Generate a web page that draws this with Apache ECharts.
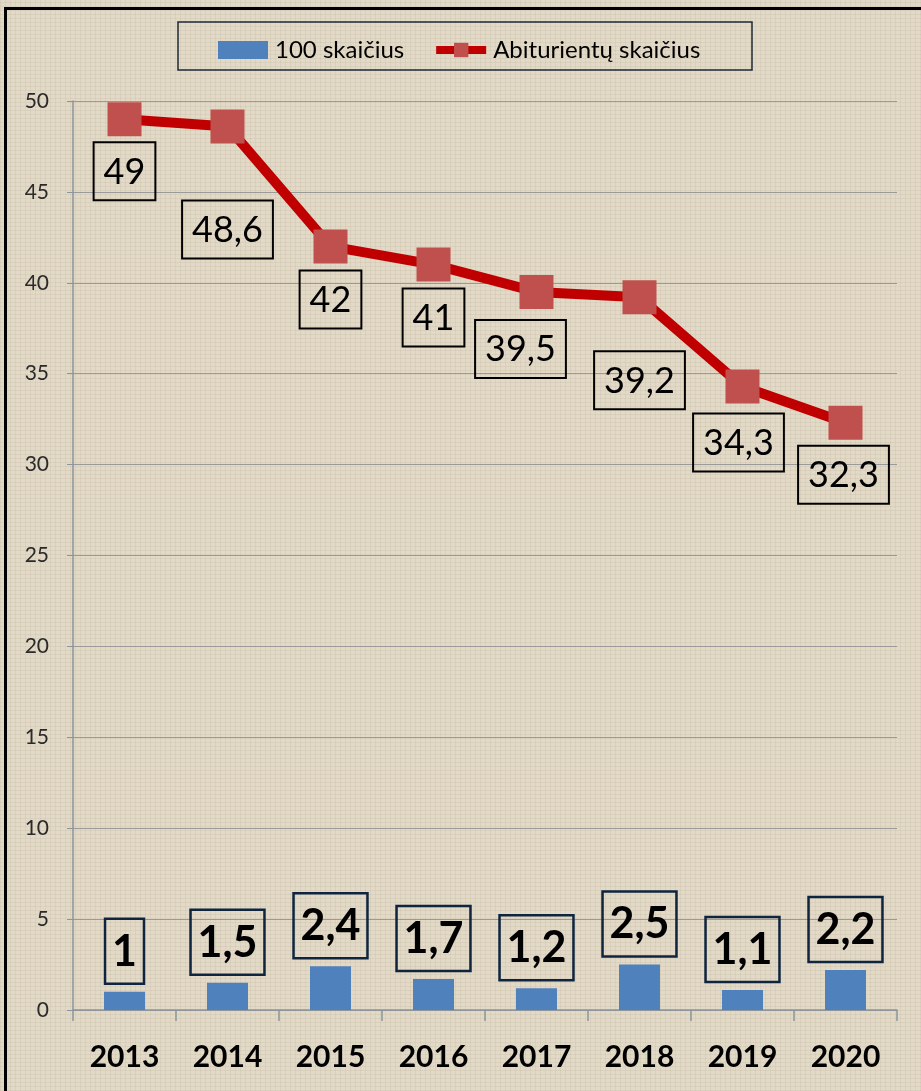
<!DOCTYPE html>
<html>
<head>
<meta charset="utf-8">
<script src="https://cdn.jsdelivr.net/npm/echarts@6/dist/echarts.min.js"></script>
<style>
  * { margin: 0; padding: 0; }
  html, body {
    width: 921px; height: 1091px; overflow: hidden;
    background-color: #e2d9c6;
    /* imitacija drobės faktūrai */
    background-image:
      repeating-linear-gradient(0deg, rgba(110, 95, 70, 0.07) 0 1px, transparent 1px 4px),
      repeating-linear-gradient(90deg, rgba(110, 95, 70, 0.07) 0 1px, transparent 1px 5px);
  }
  #frame {
    position: absolute; left: 4px; top: 7px; width: 930px; height: 1100px;
    border-left: 3px solid #000; border-top: 3px solid #000;
  }
  #main { position: absolute; left: 0; top: 0; width: 921px; height: 1091px; }
</style>
</head>
<body>
<div id="frame"></div>
<div id="main"></div>
<script>
var years = ['2013', '2014', '2015', '2016', '2017', '2018', '2019', '2020'];
var count100 = [1, 1.5, 2.4, 1.7, 1.2, 2.5, 1.1, 2.2];            // 100 skaičius
var abiturientai = [49, 48.6, 42, 41, 39.5, 39.2, 34.3, 32.3];     // Abiturientų skaičius
var yMin = 0, yMax = 50, yStep = 5;

// etikečių poslinkiai (kaip rankiniu būdu sudėlioti Excel'yje)
var lineLabelShift = [[0, 0], [0, 51], [0, 1], [0, 1], [-16, 5], [0, 31], [-4, 4], [-2, 0]];

var font = 'Lato, "Open Sans", sans-serif';
function comma(p) { return String(p.value).replace('.', ','); }

var chart = echarts.init(document.getElementById('main'));
chart.setOption({
  backgroundColor: 'transparent',
  animation: false,
  graphic: [{
    type: 'rect',
    shape: { x: 178, y: 22, width: 574, height: 48 },
    style: { fill: 'none', stroke: '#1c2a38', lineWidth: 1.5 }
  }],
  legend: {
    top: 33,
    left: 213,
    itemGap: 28,
    itemWidth: 50,
    itemHeight: 18,
    textStyle: { fontSize: 24, color: '#000', fontFamily: font, padding: [0, 0, 0, 2] },
    lineStyle: { width: 8 },
    data: [{ name: '100 skaičius', icon: 'rect' }, { name: 'Abiturientų skaičius' }]
  },
  grid: { left: 73, right: 24, top: 101, bottom: 81 },
  xAxis: {
    type: 'category',
    data: years,
    axisLine: { lineStyle: { color: '#8a949c', width: 1.5 } },
    axisTick: { show: true, length: 11, lineStyle: { color: '#8a949c', width: 1.5 } },
    axisLabel: { margin: 32, fontSize: 30, fontWeight: 'bold', color: '#000', fontFamily: font }
  },
  yAxis: {
    type: 'value',
    min: yMin, max: yMax, interval: yStep,
    axisLine: { show: true, lineStyle: { color: '#8a949c', width: 1.5 } },
    axisTick: { show: true, length: 6, lineStyle: { color: '#8a949c' } },
    axisLabel: { margin: 24, fontSize: 21, color: '#2a2a2a', fontFamily: font },
    splitLine: { lineStyle: { color: '#9a9a9a', width: 1.2 } }
  },
  series: [
    {
      name: '100 skaičius',
      type: 'bar',
      barWidth: 41,
      itemStyle: { color: '#4f81bd', borderRadius: 0 },
      label: {
        show: true, position: 'top', distance: 8,
        formatter: comma,
        fontSize: 43, fontWeight: 'bold', color: '#000', fontFamily: font,
        lineHeight: 48, padding: [9, 7, 8, 7],
        borderColor: '#0f243e', borderWidth: 2.5
      },
      data: count100
    },
    {
      name: 'Abiturientų skaičius',
      type: 'line',
      symbol: 'rect',
      symbolSize: 34,
      lineStyle: { color: '#c00000', width: 10 },
      itemStyle: { color: '#c0504d' },
      label: {
        show: true, position: 'bottom', distance: 6,
        formatter: comma,
        fontSize: 36, color: '#000', fontFamily: font,
        lineHeight: 40, padding: [10, 10, 8, 10],
        borderColor: '#000', borderWidth: 2
      },
      data: abiturientai.map(function (v, i) {
        return { value: v, label: { offset: lineLabelShift[i] } };
      })
    }
  ]
});
</script>
</body>
</html>
